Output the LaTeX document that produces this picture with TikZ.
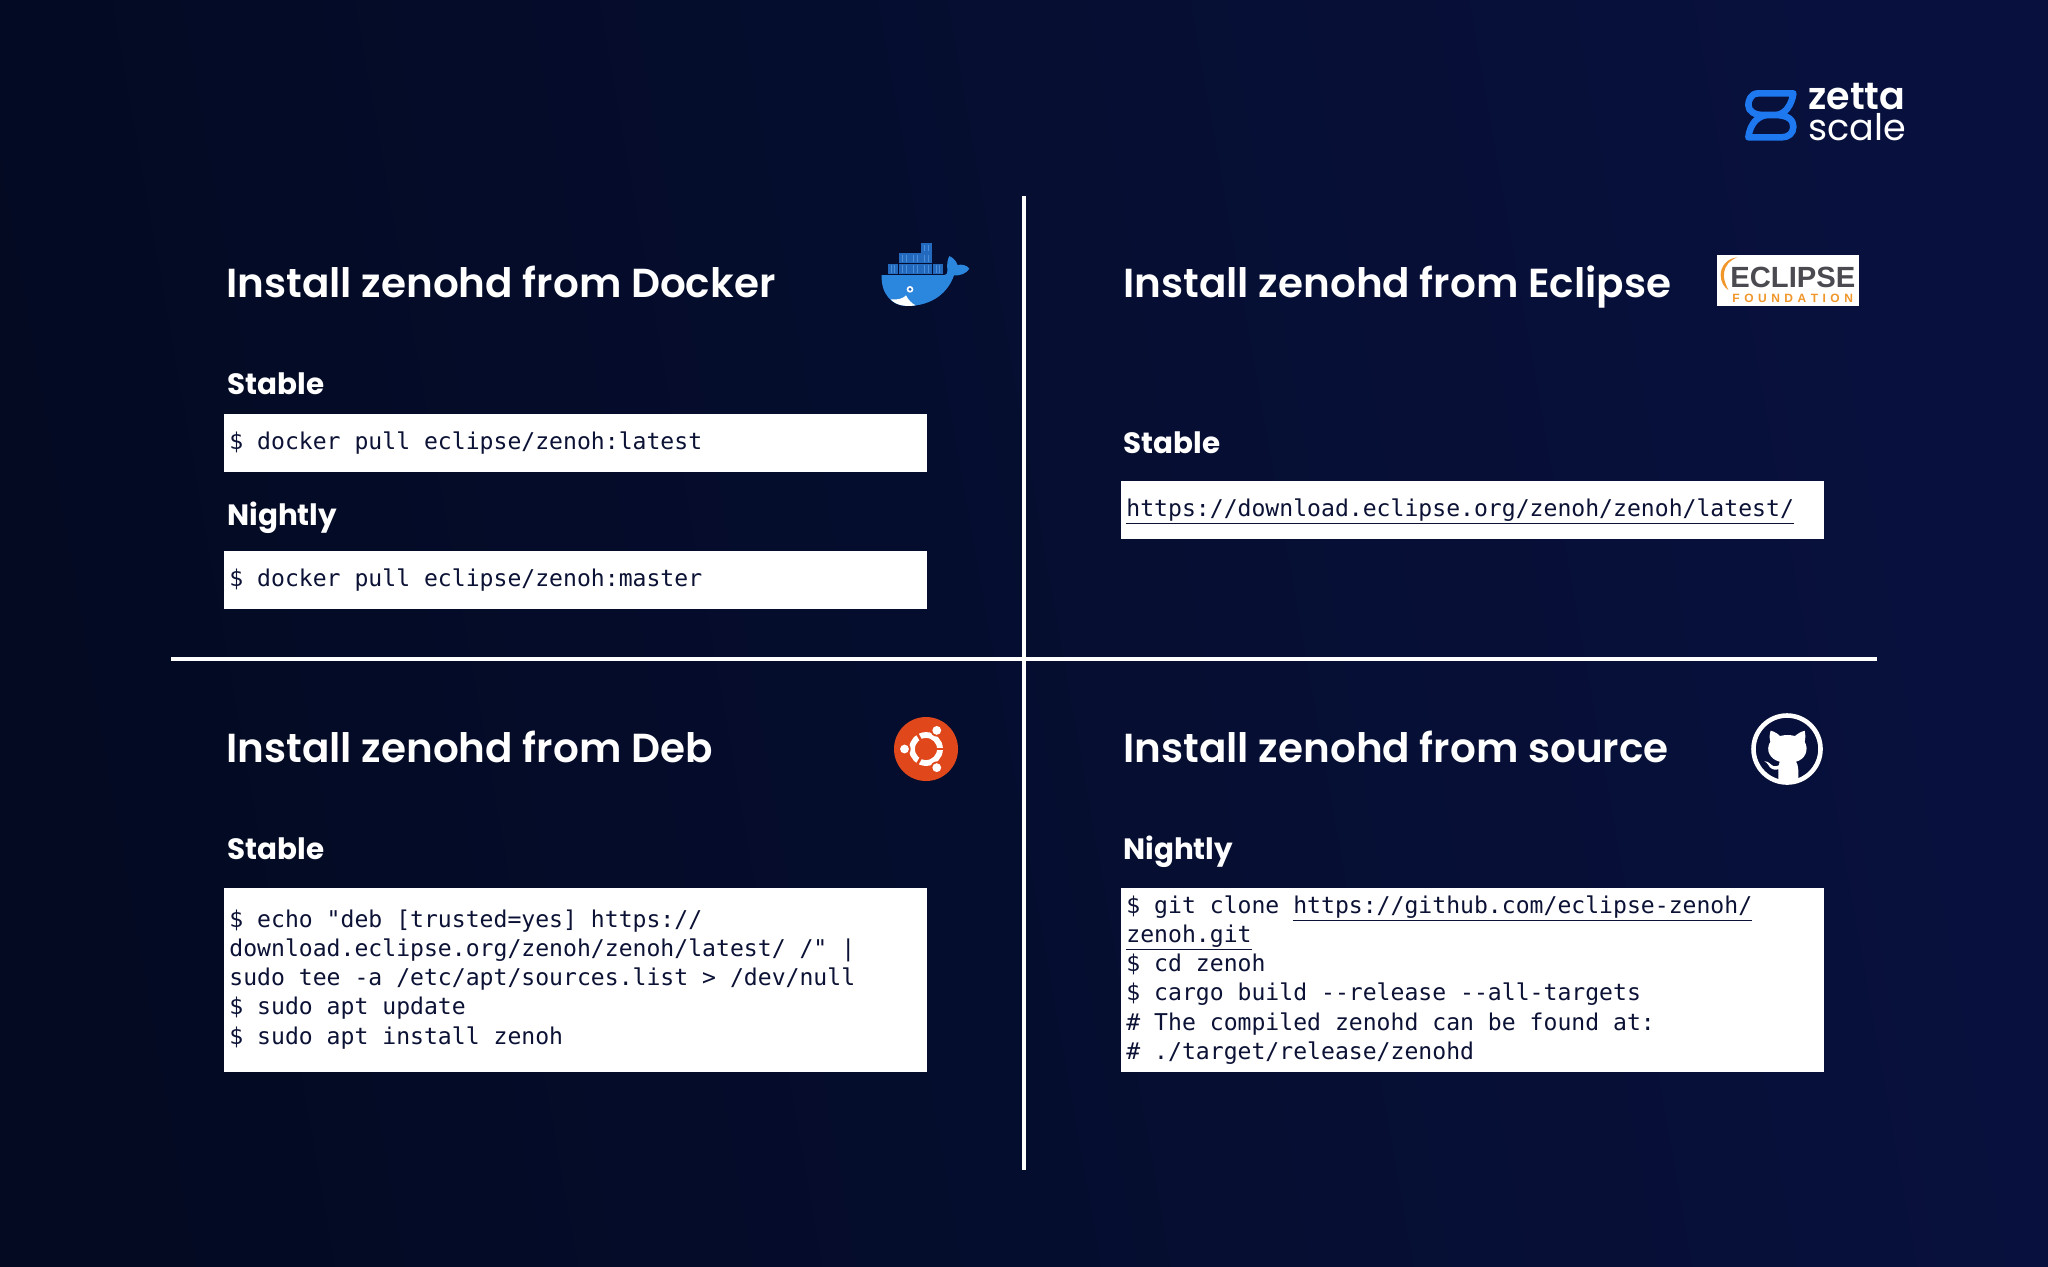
\documentclass[tikz,border=0pt]{standalone}
\usepackage{fontspec}
\setmainfont{Poppins}
\newfontfamily\headf[UprightFont=* Medium,BoldFont=* SemiBold]{Poppins}
\newfontfamily\codef{DejaVu Sans Mono}
\newfontfamily\logof{Liberation Sans}
\usetikzlibrary{shadings}
\definecolor{bgL}{HTML}{030A22}
\definecolor{bgR}{HTML}{08113E}
\definecolor{ink}{HTML}{0C1235}
\definecolor{dockA}{HTML}{2B86DE}
\definecolor{dockB}{HTML}{2369BE}
\definecolor{dockC}{HTML}{4A8DD8}
\definecolor{ubu}{HTML}{E0481C}
\definecolor{zblue}{HTML}{1E78F0}
\definecolor{eclO}{HTML}{F0962A}
\definecolor{eclG}{HTML}{4A4A50}
\tikzset{
 title/.style={anchor=base west,inner sep=0pt,text=white,font=\headf\bfseries\fontsize{20.25pt}{24pt}\selectfont},
 sub/.style={anchor=base west,inner sep=0pt,text=white,font=\bfseries\fontsize{14.7pt}{18pt}\selectfont},
 cbox/.style={anchor=north west,fill=white,draw=none,inner sep=0pt},
 code/.style={anchor=base west,inner sep=0pt,text=ink,font=\codef\fontsize{11.55pt}{14.5pt}\selectfont},
 rule/.style={draw=white,line width=2.4pt},
 zoomed/.style={x=0.16667pt,y=-0.16667pt},
}
\begin{document}
\begin{tikzpicture}[x=0.5pt,y=-0.5pt]
\useasboundingbox (0,0) rectangle (2048,1266);
\shade[left color=bgL,right color=bgR,shading angle=100] (0,0) rectangle (2048,1266);
% rules
\coordinate (vt) at (1024,196); \coordinate (vb) at (1024,1170);
\coordinate (hl) at (171,659); \coordinate (hr) at (1877,659);
\draw[rule] (vt) -- (vb);
\draw[rule] (hl) -- (hr);
% titles
\node[title] (t1) at (226,297) {Install zenohd from Docker};
\node[title] (t2) at (1123,297) {Install zenohd from Eclipse};
\node[title] (t3) at (226,762) {Install zenohd from Deb};
\node[title] (t4) at (1123,762) {Install zenohd from source};
% subheads
\node[sub] (s1) at (227,394) {Stable};
\node[sub] (s2) at (227,525) {Nightly};
\node[sub] (s3) at (1123,453) {Stable};
\node[sub] (s4) at (227,859) {Stable};
\node[sub] (s5) at (1123,859) {Nightly};
% boxes
\node[cbox,minimum width=351.3pt,minimum height=29pt] (b1) at (224,414) {};
\node[cbox,minimum width=351.3pt,minimum height=29pt] (b2) at (224,551) {};
\node[cbox,minimum width=351.3pt,minimum height=28.7pt] (b3) at (1121,481) {};
\node[cbox,minimum width=351.3pt,minimum height=92pt] (b4) at (224,888) {};
\node[cbox,minimum width=351.3pt,minimum height=92pt] (b5) at (1121,888) {};
% code
\node[code] (c1) at (229,449) {\$ docker pull eclipse/zenoh:latest};
\node[code] (c2) at (229,586) {\$ docker pull eclipse/zenoh:master};
\node[code] (c3) at (1126,516) {\underline{https://download.eclipse.org/zenoh/zenoh/latest/}};
\node[code] (d1) at (229,927) {\$ echo "deb [trusted=yes] https://};
\node[code] (d2) at (229,956) {download.eclipse.org/zenoh/zenoh/latest/ /" |};
\node[code] (d3) at (229,985) {sudo tee -a /etc/apt/sources.list > /dev/null};
\node[code] (d4) at (229,1014.5) {\$ sudo apt update};
\node[code] (d5) at (229,1044) {\$ sudo apt install zenoh};
\node[code] (e1) at (1126,913) {\$ git clone \underline{https://github.com/eclipse-zenoh/}};
\node[code] (e2) at (1126,942) {\underline{zenoh.git}};
\node[code] (e3) at (1126,971.5) {\$ cd zenoh};
\node[code] (e4) at (1126,1000.5) {\$ cargo build --release --all-targets};
\node[code] (e5) at (1126,1030) {\# The compiled zenohd can be found at:};
\node[code] (e6) at (1126,1059) {\# ./target/release/zenohd};
% docker logo
\begin{scope}[shift={(850,220)},zoomed]
 \fill[dockA] (95,165) -- (284,165) .. controls (290,165) and (292,160) .. (292,150)
  .. controls (290,130) and (293,118) .. (298,108) .. controls (312,115) and (320,125) .. (322,135)
  .. controls (335,132) and (350,135) .. (358,146) .. controls (350,160) and (330,168) .. (312,166)
  .. controls (295,215) and (250,258) .. (170,258) .. controls (125,258) and (92,220) .. (95,165) -- cycle;
 \fill[white] (122,238) .. controls (145,240) and (160,235) .. (168,226) .. controls (175,240) and (185,250) .. (197,256) .. controls (170,260) and (140,258) .. (122,238) -- cycle;
 \fill[white] (180,208) circle[radius=10];
 \fill[dockB] (180,208) circle[radius=5];
 \foreach \xa in {113,147,180,214,248}{\fill[dockB] (\xa,131) rectangle ++(32,32);
   \draw[dockC,line width=0.4pt] (\xa+10,136) -- (\xa+10,158) (\xa+21,136) -- (\xa+21,158);}
 \foreach \xa in {147,180,214}{\fill[dockB] (\xa,100) rectangle ++(32,30);
   \draw[dockC,line width=0.4pt] (\xa+10,105) -- (\xa+10,125) (\xa+21,105) -- (\xa+21,125);}
 \fill[dockB] (214,70) rectangle ++(32,29);
 \draw[dockC,line width=0.4pt] (224,75) -- (224,94) (235,75) -- (235,94);
\end{scope}
% zettascale logo
\begin{scope}[shift={(1700,60)},zoomed]
 \draw[zblue,line width=3.3pt,line join=round]
  (280,100) -- (175,100) .. controls (150,100) and (145,125) .. (145,135) .. controls (145,155) and (165,165) .. (190,165)
  -- (225,165) .. controls (265,165) and (280,180) .. (280,200) .. controls (280,220) and (265,232) .. (245,232) -- (145,232)
  .. controls (150,190) and (175,165) .. (205,165) -- (225,165) .. controls (255,165) and (275,135) .. (280,100) -- cycle;
\end{scope}
\node[anchor=base west,inner sep=0pt,text=white,font=\headf\bfseries\fontsize{19pt}{20pt}\selectfont] (z1) at (1808,109) {zetta};
\node[anchor=base west,inner sep=0pt,text=white,font=\fontsize{18.3pt}{20pt}\selectfont] (z2) at (1808,140) {scale};
% eclipse logo
\fill[white] (1717,255) rectangle (1859,306);
\begin{scope}[shift={(1700,60)},zoomed]
 \fill[eclO] (112,592) .. controls (80,595) and (62,620) .. (62,645) .. controls (62,665) and (72,682) .. (85,690)
  .. controls (75,670) and (70,655) .. (72,640) .. controls (75,615) and (90,600) .. (112,592) -- cycle;
\end{scope}
\node[anchor=base west,inner sep=0pt,text=eclG,font=\logof\bfseries\fontsize{14.6pt}{16pt}\selectfont] (ec1) at (1730,287) {ECLIPSE};
\node[anchor=base west,inner sep=0pt,text=eclO,font=\logof\bfseries\fontsize{6pt}{7pt}\selectfont] (ec2) at (1732,302) {F\kern2.25pt O\kern2.25pt U\kern2.25pt N\kern2.25pt D\kern2.25pt A\kern2.25pt T\kern2.25pt I\kern2.25pt O\kern2.25pt N};
% ubuntu logo
\fill[ubu] (926,749) circle[radius=32];
\begin{scope}[shift={(926,749)}]
 \draw[white,line width=2.9pt] (0,0) circle[radius=14];
 \foreach \a in {0,120,240}{\draw[ubu,line width=1.3pt] (\a:10) -- (\a:19);}
 \foreach \a in {60,180,300}{\fill[ubu] (\a:21.5) circle[radius=6.2]; \fill[white] (\a:21.5) circle[radius=4.4];}
\end{scope}
% github logo
\draw[white,line width=2.3pt] (1787,749) circle[radius=33.5];
\begin{scope}[shift={(1730,700)},zoomed]
 \clip (172,148) circle[radius=104];
 \fill[white] (122,92) .. controls (135,95) and (145,103) .. (150,108) .. controls (165,104) and (180,104) .. (195,108)
  .. controls (200,103) and (212,95) .. (224,92) .. controls (227,105) and (226,118) .. (224,125)
  .. controls (238,150) and (225,178) .. (198,185) .. controls (205,195) and (206,210) .. (205,250)
  -- (145,250) -- (145,208) .. controls (130,212) and (120,205) .. (115,195) .. controls (112,190) and (108,186) .. (103,184)
  .. controls (115,182) and (122,195) .. (130,198) .. controls (135,200) and (142,198) .. (146,196) .. controls (146,192) and (147,188) .. (149,185)
  .. controls (120,178) and (105,150) .. (121,125) .. controls (118,115) and (118,103) .. (122,92) -- cycle;
\end{scope}
\end{tikzpicture}
\end{document}
